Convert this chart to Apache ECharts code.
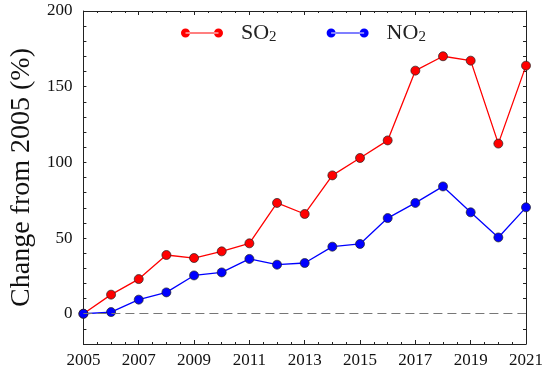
<!DOCTYPE html>
<html>
<head>
<meta charset="utf-8">
<script src="https://cdn.jsdelivr.net/npm/echarts@6/dist/echarts.min.js"></script>
<style>
  html, body { margin: 0; padding: 0; background: #fff; }
  #chart { width: 547px; height: 375px; }
</style>
</head>
<body>
<div id="chart"></div>
<script>
// data (change relative to 2005, %)
var years = [2005, 2006, 2007, 2008, 2009, 2010, 2011, 2012, 2013,
             2014, 2015, 2016, 2017, 2018, 2019, 2020, 2021];
var so2 = [0, 12.6, 22.9, 38.8, 36.8, 41.2, 46.5, 73.2, 65.9,
           91.4, 102.9, 114.5, 160.6, 170.1, 167.2, 112.4, 163.9];
var no2 = [0, 1.1, 9.3, 14.1, 25.3, 27.3, 36.2, 32.4, 33.5,
           44.3, 46.1, 63.2, 73.2, 84.1, 67.0, 50.4, 70.3];
var yLabelValues = [0, 50, 100, 150, 200];
var seriesNames = ['SO2', 'NO2'];

var font = 'Liberation Serif';
var axisColor = '#222';

function pairs(vals) {
    return years.map(function (y, i) { return [y, vals[i]]; });
}

// legend icon: two dots joined by a line
var legendIcon = 'path://M0,4.5A4.5,4.5 0 1,0 9,4.5A4.5,4.5 0 1,0 0,4.5Z' +
    'M33,4.5A4.5,4.5 0 1,0 42,4.5A4.5,4.5 0 1,0 33,4.5Z' +
    'M4.5,3.9L37.5,3.9L37.5,5.1L4.5,5.1Z';

function xAxisDef(pos, showLabel) {
    return {
        type: 'value', position: pos, min: 2005, max: 2021, interval: 2,
        axisLine: { show: true, onZero: false, lineStyle: { color: axisColor, width: 1 } },
        axisTick: { show: true, inside: true, length: 4, lineStyle: { color: axisColor } },
        minorTick: { show: true, splitNumber: 4, length: 2, lineStyle: { color: axisColor } },
        splitLine: { show: false },
        axisLabel: {
            show: showLabel, margin: 8, color: '#111',
            fontFamily: font, fontSize: 17,
            formatter: function (v) { return String(v); }
        }
    };
}

function yAxisDef(pos, showLabel) {
    var ax = {
        type: 'value', position: pos, min: -20, max: 200, interval: 10,
        axisLine: { show: true, onZero: false, lineStyle: { color: axisColor, width: 1 } },
        axisTick: { show: true, inside: true, length: 3, lineStyle: { color: axisColor } },
        splitLine: { show: false },
        axisLabel: {
            show: showLabel, margin: 11, color: '#111',
            fontFamily: font, fontSize: 17,
            customValues: yLabelValues
        }
    };
    if (showLabel) {
        ax.name = 'Change from 2005 (%)';
        ax.nameLocation = 'middle';
        ax.nameGap = 40;
        ax.nameTextStyle = { fontFamily: font, fontSize: 28, color: '#111' };
    }
    return ax;
}

function lineSeries(name, vals, color) {
    return {
        name: name, type: 'line', data: pairs(vals),
        symbol: 'circle', symbolSize: 9,
        lineStyle: { color: color, width: 1.3 },
        itemStyle: { color: color, borderColor: '#222', borderWidth: 0.7 },
        emphasis: { disabled: true },
        animation: false
    };
}

var chart = echarts.init(document.getElementById('chart'));

var so2Series = lineSeries(seriesNames[0], so2, '#ff0000');
so2Series.markLine = {
    silent: true, symbol: 'none', animation: false,
    label: { show: false },
    lineStyle: { color: '#777', type: [9, 5], width: 1.1 },
    data: [{ yAxis: 0 }]
};

chart.setOption({
    backgroundColor: '#fff',
    animation: false,
    grid: { left: 74, right: 21, top: 11, bottom: 31 },
    legend: {
        left: 176, top: 17,
        itemWidth: 42, itemHeight: 9, itemGap: 50,
        icon: legendIcon,
        itemStyle: { borderWidth: 0 },
        data: seriesNames,
        formatter: function (name) {
            return '{m|' + name.slice(0, 2) + '}{s|' + name.slice(2) + '}';
        },
        textStyle: {
            padding: [0, 0, 0, 13],
            rich: {
                m: { fontFamily: font, fontSize: 22, color: '#222' },
                s: { fontFamily: font, fontSize: 15, color: '#222', padding: [9, 0, 0, 0] }
            }
        }
    },
    xAxis: [xAxisDef('bottom', true), xAxisDef('top', false)],
    yAxis: [yAxisDef('left', true), yAxisDef('right', false)],
    series: [so2Series, lineSeries(seriesNames[1], no2, '#0000ff')]
});
</script>
</body>
</html>
